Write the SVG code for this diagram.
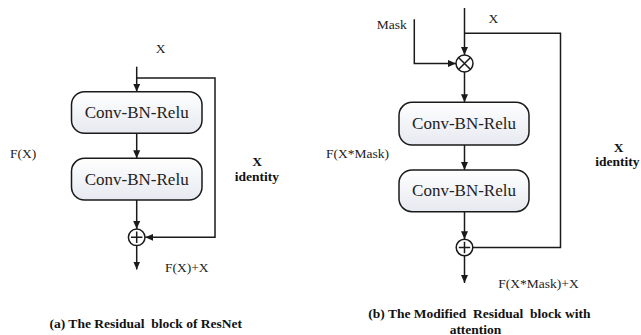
<svg xmlns="http://www.w3.org/2000/svg" width="641" height="335" viewBox="0 0 641 335">
<style>
.ln{fill:none;stroke:#1a1a1a;stroke-width:1.5}
.ar{marker-end:url(#ah)}
.box{stroke:#1a1a1a;stroke-width:1.5;fill:url(#g)}
.op{fill:#fff;stroke:#1a1a1a;stroke-width:1.5}
text{font-family:'Liberation Serif',Tinos,'DejaVu Serif','Noto Serif',serif;white-space:pre}
.bt{font-size:17px;fill:#222;text-anchor:middle}
.lb{font-size:13.5px;fill:#222}
.bd{font-size:13.5px;font-weight:bold;fill:#111}
</style>
<defs>
<linearGradient id="g" x1="0" y1="0" x2="0" y2="1">
<stop offset="0" stop-color="#ffffff"/>
<stop offset="1" stop-color="#e6e9f0"/>
</linearGradient>
<marker id="ah" markerUnits="userSpaceOnUse" markerWidth="9" markerHeight="8" refX="8" refY="3.5" orient="auto">
<path d="M0,0 L8,3.5 L0,7 z" fill="#1a1a1a"/>
</marker>
</defs>
<rect width="641" height="335" fill="#fff"/>
<g id="connectors">
<path class="ln ar" d="M136.7,66.7 V91.7"/>
<path class="ln ar" d="M136.7,78 H215 V237.3 H145.3"/>
<path class="ln ar" d="M136.7,133.3 V158.3"/>
<path class="ln ar" d="M136.7,200 V229"/>
<path class="ln ar" d="M136.7,245.6 V269.5"/>
<path class="ln ar" d="M464.5,8 V55"/>
<path class="ln" d="M464.5,33.3 H560.5 V247.5 H472.8"/>
<path class="ln ar" d="M414.3,19.3 V63.5 H456"/>
<path class="ln ar" d="M464.5,72 V102.3"/>
<path class="ln ar" d="M464.5,145 V170"/>
<path class="ln ar" d="M464.5,211.7 V239.2"/>
<path class="ln ar" d="M464.5,255.8 V283"/>
</g>
<g id="a-conv1">
<rect class="box" x="71.5" y="91.7" width="130.5" height="41.6" rx="13"/>
<text class="bt" x="136.7" y="118.3">Conv-BN-Relu</text>
</g>
<g id="a-conv2">
<rect class="box" x="71.5" y="158.3" width="130.5" height="41.7" rx="13"/>
<text class="bt" x="136.7" y="185">Conv-BN-Relu</text>
</g>
<g id="a-add">
<circle class="op" cx="136.7" cy="237.3" r="8.3"/>
<path class="ln" d="M131,237.3 H142.4 M136.7,231.6 V243"/>
</g>
<g id="a-labels">
<text class="lb" x="160.7" y="53" text-anchor="middle">X</text>
<text class="lb" x="10" y="158.3">F(X)</text>
<text class="bd" x="257" y="165.7" text-anchor="middle">X</text>
<text class="bd" x="257" y="180.5" text-anchor="middle">identity</text>
<text class="lb" x="165" y="272">F(X)+X</text>
<text class="bd" x="49.5" y="327.5">(a) The Residual  block of ResNet</text>
</g>
<g id="b-mul">
<circle class="op" cx="464.5" cy="63.5" r="8.5"/>
<path class="ln" d="M458.5,57.5 L470.5,69.5 M470.5,57.5 L458.5,69.5"/>
</g>
<g id="b-conv1">
<rect class="box" x="399" y="102.3" width="130" height="42.7" rx="13"/>
<text class="bt" x="464" y="129.3">Conv-BN-Relu</text>
</g>
<g id="b-conv2">
<rect class="box" x="399" y="170" width="130" height="41.7" rx="13"/>
<text class="bt" x="464" y="195.5">Conv-BN-Relu</text>
</g>
<g id="b-add">
<circle class="op" cx="464.5" cy="247.5" r="8.3"/>
<path class="ln" d="M458.8,247.5 H470.2 M464.5,241.8 V253.2"/>
</g>
<g id="b-labels">
<text class="lb" x="376.7" y="29">Mask</text>
<text class="lb" x="493.3" y="22.5" text-anchor="middle">X</text>
<text class="lb" x="326" y="158">F(X*Mask)</text>
<text class="bd" x="618.5" y="151.5" text-anchor="middle">X</text>
<text class="bd" x="617.5" y="166" text-anchor="middle">identity</text>
<text class="lb" x="498.3" y="288.3">F(X*Mask)+X</text>
<text class="bd" x="368.3" y="318">(b) The Modified  Residual  block with</text>
<text class="bd" x="475.5" y="333.5" text-anchor="middle">attention</text>
</g>
</svg>
